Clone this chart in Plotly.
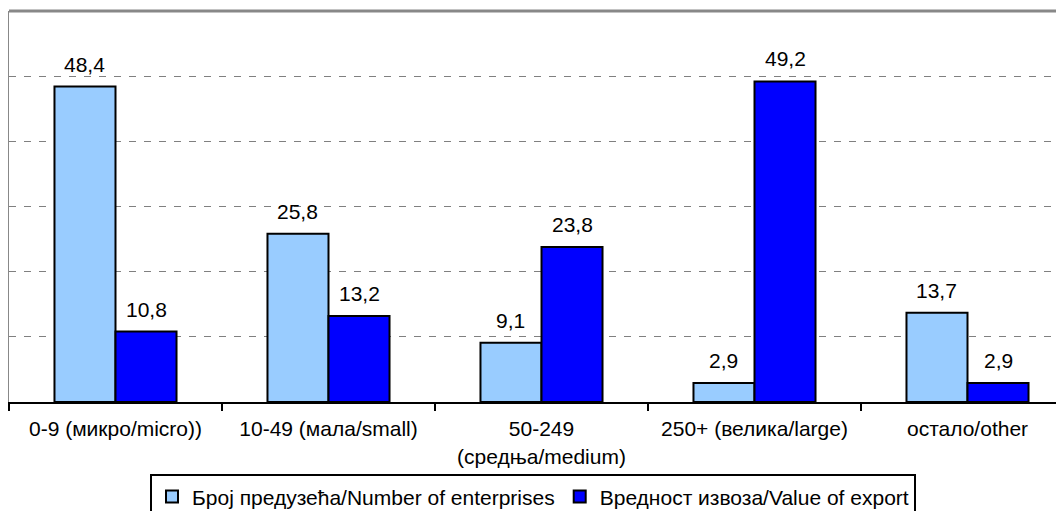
import plotly.graph_objects as go

categories = ["0-9 (микро/micro))", "10-49 (мала/small)", "50-249<br>(средња/medium)",
              "250+ (велика/large)", "остало/other"]
enterprises = [48.4, 25.8, 9.1, 2.9, 13.7]
export_value = [10.8, 13.2, 23.8, 49.2, 2.9]
series_names = ["Број предузећа/Number of enterprises", "Вредност извоза/Value of export"]
colors = ["#99CCFF", "#0000FF"]

def fmt(v):
    return f"{v:.1f}".replace(".", ",")

FONT = "Liberation Sans, Arial, sans-serif"
FS = 21

# page body has an 8px margin; compensate so the plot lands where the reference has it
W, H = 1056, 503
L, R, T, B = 1, 0, 3, 109
cat_w = 213.0
plot_w = W - L - R
x_end = -0.5 + plot_w / cat_w
BARGAP = 0.427
bar_px = cat_w * (1 - BARGAP) / 2

fig = go.Figure()
series = [enterprises, export_value]
for name, vals, col in zip(series_names, series, colors):
    fig.add_trace(go.Bar(
        x=categories, y=vals, name=name,
        marker=dict(color=col, line=dict(color="black", width=2)),
    ))

annotations = []
for s, vals in enumerate(series):
    for cat, v in zip(categories, vals):
        annotations.append(dict(
            x=cat, y=v, xref="x", yref="y", text=fmt(v), showarrow=False,
            xanchor="center", yanchor="bottom",
            xshift=(s - 0.5) * bar_px, yshift=9,
            font=dict(size=FS, family=FONT, color="black"),
        ))

fig.update_layout(
    width=W, height=H,
    margin=dict(l=L, r=R, t=T, b=B, pad=0, autoexpand=False),
    paper_bgcolor="white", plot_bgcolor="white",
    barmode="group", bargap=BARGAP, bargroupgap=0,
    font=dict(family=FONT, size=FS, color="black"),
    showlegend=True,
    legend=dict(
        orientation="h", x=0.4967, xanchor="center", y=-0.185, yanchor="top",
        bordercolor="black", borderwidth=2, bgcolor="white",
        font=dict(size=FS, family=FONT, color="black"),
        itemwidth=30, tracegroupgap=0,
    ),
    xaxis=dict(
        range=[-0.5, x_end], type="category", automargin=False,
        showline=True, linecolor="black", linewidth=2,
        ticks="outside", tickson="boundaries", ticklen=7, tickwidth=2, tickcolor="black",
        ticklabelstandoff=7,
        tickfont=dict(size=FS, family=FONT, color="black"),
        showgrid=False, fixedrange=True,
    ),
    yaxis=dict(
        range=[0, 60], dtick=10, showticklabels=False, ticks="", automargin=False,
        showgrid=True, gridcolor="#808080", gridwidth=1, griddash="7px,8px",
        showline=True, linecolor="#888888", linewidth=3,
        zeroline=False, fixedrange=True,
    ),
    annotations=annotations,
    shapes=[
        dict(type="line", xref="paper", yref="paper", x0=0, x1=1, y0=1, y1=1,
             line=dict(color="#888888", width=3)),
    ],
)

fig.write_html("out.html")
